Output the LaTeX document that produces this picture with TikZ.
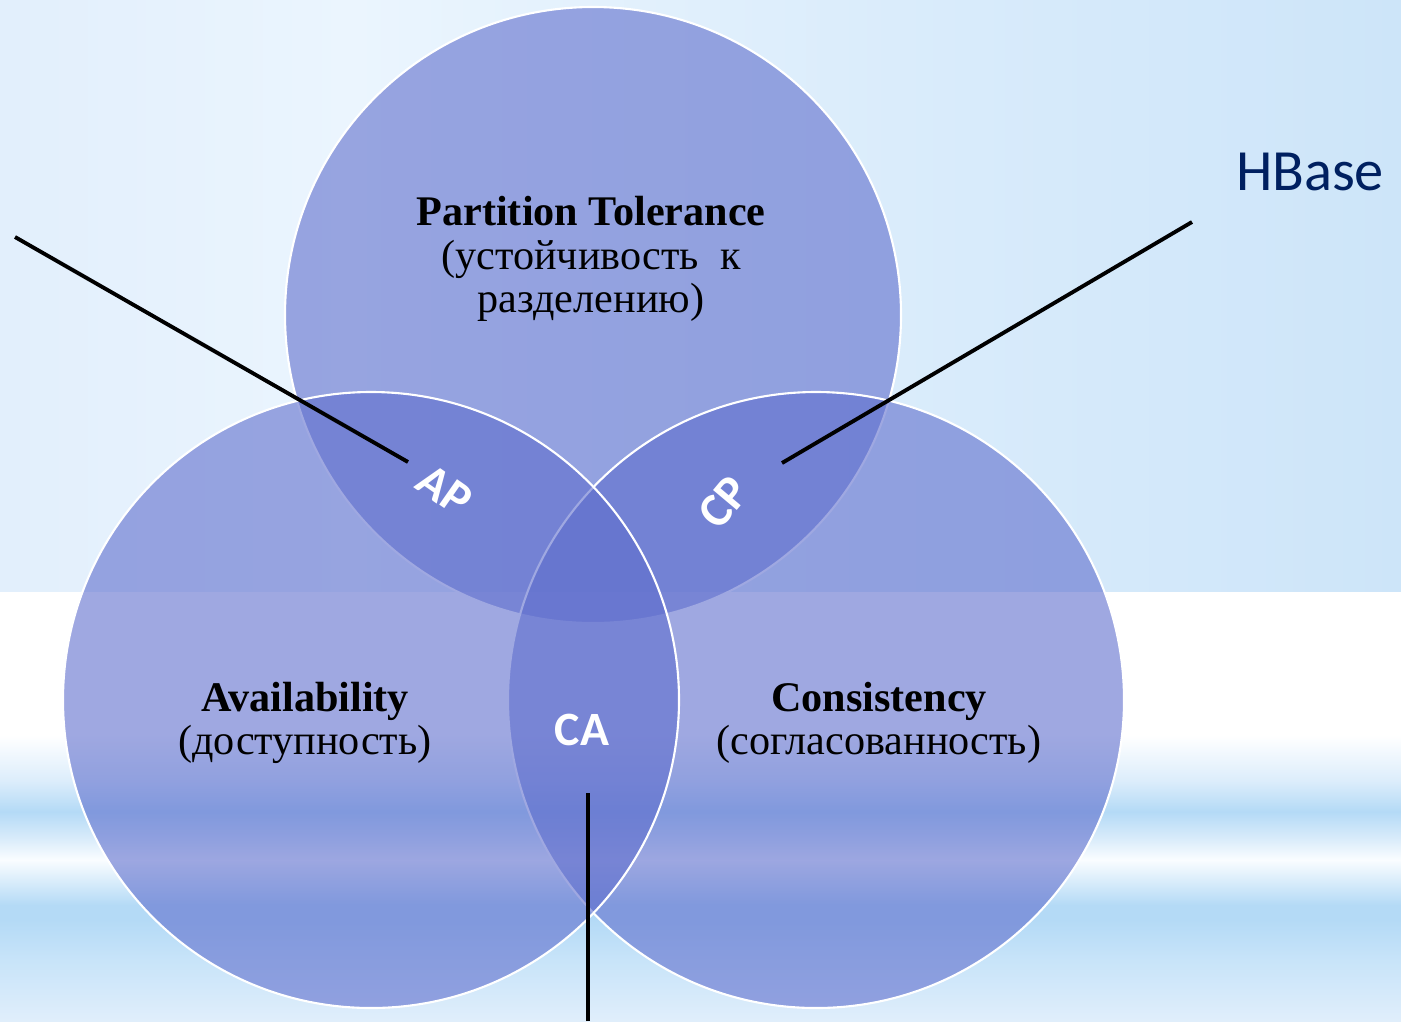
\documentclass[tikz,border=0pt]{standalone}
\usepackage{fontspec}
\setmainfont{Liberation Serif}
\newfontfamily\tagfont{Carlito}
\usepackage{xcolor}
\usepackage{tikz}

\definecolor{setblue}{RGB}{95,110,205}
\definecolor{hbaseblue}{RGB}{0,32,96}
\definecolor{skyA}{RGB}{226,239,252}
\definecolor{skyB}{RGB}{235,245,254}
\definecolor{skyC}{RGB}{218,236,251}
\definecolor{skyD}{RGB}{205,229,249}
\definecolor{bandA}{RGB}{224,238,251}
\definecolor{bandB}{RGB}{200,228,249}
\definecolor{bandC}{RGB}{180,218,246}
\definecolor{bandD}{RGB}{250,253,255}
\definecolor{bandE}{RGB}{214,234,250}
\definecolor{bandF}{RGB}{220,237,251}

% sky above, striped band below
\pgfdeclarehorizontalshading{skytop}{100bp}{color(0bp)=(skyA); color(25bp)=(skyA);
  color(37.5bp)=(skyB); color(57bp)=(skyC); color(75bp)=(skyD); color(100bp)=(skyD)}
\pgfdeclareverticalshading{stripes}{100bp}{color(0bp)=(bandA); color(25bp)=(bandA);
  color(32bp)=(bandB); color(36.8bp)=(bandC); color(38.5bp)=(bandC);
  color(43.8bp)=(bandD); color(46.5bp)=(bandE); color(49.4bp)=(bandC);
  color(53bp)=(bandF); color(58.3bp)=(white); color(100bp)=(white)}

\tikzset{
  capset/.style={fill=setblue, fill opacity=0.6, draw=white, line width=0.6pt},
  caption/.style={align=center, text=black, font={\fontsize{12}{12.4}\selectfont}},
  pairtag/.style={text=white, font={\tagfont\bfseries\fontsize{13.6}{14}\selectfont}},
  pointer/.style={black, line width=1.1pt}
}

\begin{document}
\begin{tikzpicture}[x=0.01cm, y=-0.01cm]
\useasboundingbox (0,0) rectangle (1401,1021);
\shade[shading=skytop] (0,0) rectangle (1401,592);
\shade[shading=stripes] (0,592) rectangle (1401,1021);

% the three sets
\draw[capset] (593,315) circle (308);
\draw[capset] (816,700) circle (308);
\draw[capset] (371,700) circle (308);

\node[caption] (ptol) at (591,259) {\textbf{Partition Tolerance}\\(устойчивость\ \ к\\разделению)};
\node[caption] (avail) at (305,723) {\textbf{Availability}\\(доступность)};
\node[caption] (consist) at (879,723) {\textbf{Consistency}\\(согласованность)};

\node[pairtag, rotate=-35] (ap) at (445,490) {AP};
\node[pairtag, rotate=50] (cp) at (724,502) {CP};
\node[pairtag] (ca) at (582,730) {CA};

\node[text=hbaseblue, font={\tagfont\fontsize{16.6}{20}\selectfont}] (hbase) at (1310,172) {HBase};

% pointers to the pairs
\coordinate (apfar) at (15,237);
\coordinate (apnear) at (408,462);
\coordinate (cpfar) at (1192,222);
\coordinate (cpnear) at (782,463);
\coordinate (cafar) at (588,1021);
\coordinate (canear) at (588,793);
\draw[pointer] (apfar) -- (apnear);
\draw[pointer] (cpfar) -- (cpnear);
\draw[pointer] (cafar) -- (canear);
\end{tikzpicture}
\end{document}
